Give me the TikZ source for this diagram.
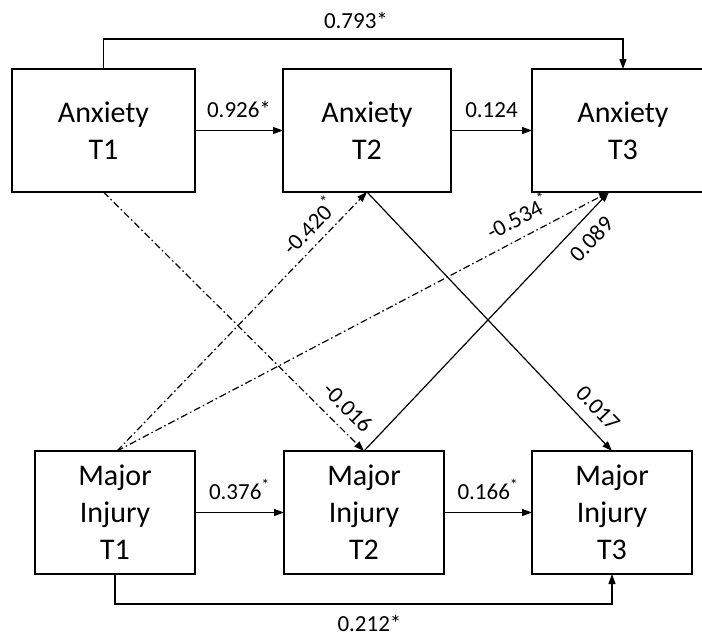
\documentclass[tikz,border=0pt]{standalone}
\usepackage{fontspec}
\setmainfont{Carlito}
\usetikzlibrary{arrows.meta}
\begin{document}
\begin{tikzpicture}[x=1pt,y=1pt,
  box/.style={draw,line width=1.3pt,inner sep=0pt,outer sep=0pt,minimum height=123pt,align=center,font=\fontsize{30}{37}\selectfont},
  conn/.style={line width=1.2pt,-{Triangle[length=10pt,width=7pt]}},
  dd/.style={dash pattern=on 7pt off 3pt on 1.5pt off 3pt},
  lab/.style={font=\fontsize{23}{27}\selectfont,inner sep=2pt}]
\useasboundingbox (0,0) rectangle (702,-638);
\fill[white] (0,0) rectangle (702,-638);
% boxes
\node[box,minimum width=183pt] (A1) at (103.5,-130.5) {Anxiety\\T1};
\node[box,minimum width=168pt] (A2) at (367,-130.5) {Anxiety\\T2};
\node[box,minimum width=182pt] (A3) at (623,-130.5) {Anxiety\\T3};
\node[box,minimum width=160pt] (M1) at (115,-512.5) {Major\\Injury\\T1};
\node[box,minimum width=160pt] (M2) at (364,-512.5) {Major\\Injury\\T2};
\node[box,minimum width=160pt] (M3) at (612,-512.5) {Major\\Injury\\T3};
% horizontal paths
\draw[conn] (A1) -- node[lab,above=10pt]{0.926*} (A2);
\draw[conn] (A2) -- node[lab,above=10pt]{0.124} (A3);
\draw[conn] (M1) -- node[lab,above=10pt]{0.376\textsuperscript{*}} (M2);
\draw[conn] (M2) -- node[lab,above=10pt]{0.166\textsuperscript{*}} (M3);
\draw[conn] (A1.north) -- ++(0,30) -| node[lab,pos=0.243,above=8pt]{0.793*} (A3.north);
\draw[conn] (M1.south) -- ++(0,-30) -| node[lab,pos=0.256,below=9pt]{0.212*} (M3.south);
% cross-lagged paths
\coordinate (A3in) at ([xshift=-14pt]A3.south);
\coordinate (M1out) at ([xshift=2pt]M1.north);
\draw[conn,dd] (A1.south) -- node[lab,sloped,above=9pt,pos=0.885]{-0.016} (M2.north);
\draw[conn,dd] (M1out) -- node[lab,sloped,above=6pt,pos=0.82]{-0.420\textsuperscript{*}} (A2.south);
\draw[conn,dd] (M1out) -- node[lab,sloped,above=9pt,pos=0.834]{-0.534\textsuperscript{*}} (A3in);
\draw[conn] (A2.south) -- node[lab,sloped,above=9pt,pos=0.886]{0.017} (M3.north);
\draw[conn] (M2.north) -- node[lab,sloped,below=9pt,pos=0.87]{0.089} (A3in);
\end{tikzpicture}
\end{document}
